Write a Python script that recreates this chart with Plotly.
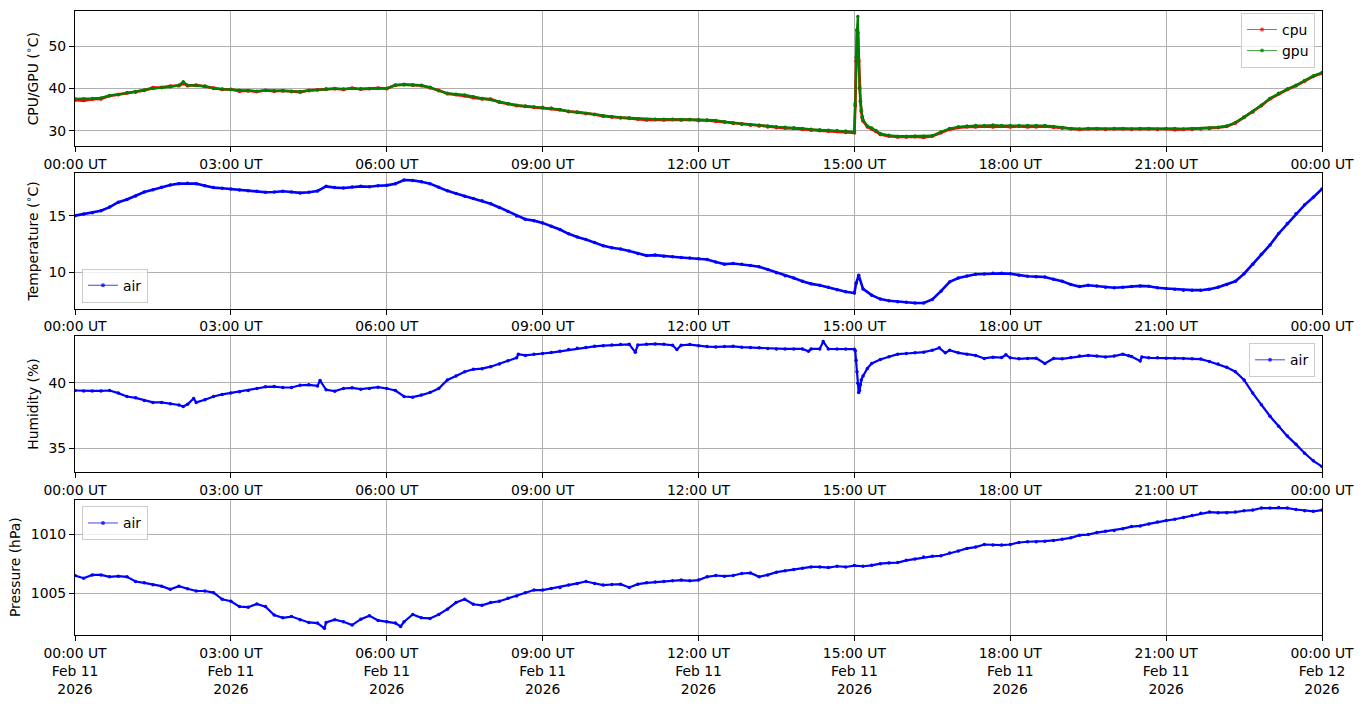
import pandas as pd
import plotly.graph_objects as go

# ---------------- data (minutes after 2026-02-11 00:00 UT) ----------------
gpu_min = [0, 10, 20, 30, 40, 50, 60, 70, 80, 90, 100, 110, 120, 125, 130, 140, 150, 160, 170, 180,
           190, 200, 210, 220, 230, 240, 250, 260, 270, 280, 290, 300, 310, 320, 330, 340, 350, 360,
           370, 380, 390, 400, 410, 420, 430, 440, 450, 460, 470, 480, 490, 500, 510, 520, 530, 540,
           550, 560, 570, 580, 590, 600, 610, 620, 630, 640, 650, 660, 670, 680, 690, 700, 710, 720,
           730, 740, 750, 760, 770, 780, 790, 800, 810, 820, 830, 840, 850, 860, 870, 880, 890, 900,
           901, 902, 903, 904, 905, 906, 907, 908, 909, 910, 915, 920, 925, 930, 940, 950, 960, 970,
           980, 990, 1000, 1010, 1020, 1030, 1040, 1050, 1060, 1070, 1080, 1090, 1100, 1110, 1120,
           1130, 1140, 1150, 1160, 1170, 1180, 1190, 1200, 1210, 1220, 1230, 1240, 1250, 1260, 1270,
           1280, 1290, 1300, 1310, 1320, 1330, 1340, 1350, 1360, 1370, 1380, 1390, 1400, 1410, 1420,
           1430, 1440]
gpu_val = [37.6, 37.6, 37.7, 37.8, 38.4, 38.6, 39.0, 39.3, 39.7, 40.0, 40.2, 40.4, 40.8, 41.6, 40.8, 40.7,
           40.6, 40.0, 39.9, 39.8, 39.6, 39.5, 39.4, 39.6, 39.5, 39.5, 39.4, 39.3, 39.5, 39.7, 39.8,
           40.0, 39.9, 40.0, 39.9, 40.0, 40.0, 40.1, 40.8, 40.9, 40.9, 40.8, 40.3, 39.5, 38.9, 38.7,
           38.5, 38.1, 37.7, 37.4, 36.9, 36.5, 36.1, 35.9, 35.7, 35.6, 35.4, 35.1, 34.6, 34.5, 34.2,
           33.9, 33.6, 33.4, 33.2, 33.1, 32.9, 32.8, 32.8, 32.8, 32.8, 32.7, 32.7, 32.7, 32.6, 32.5,
           32.2, 31.9, 31.7, 31.5, 31.4, 31.2, 31.0, 30.9, 30.8, 30.6, 30.4, 30.3, 30.2, 30.1, 30.0,
           29.8, 36.5, 47.4, 53.8, 57.0, 46.2, 40.0, 37.3, 34.9, 33.4, 32.6, 31.2, 30.7, 30.1, 29.4,
           29.0, 28.8, 28.8, 28.8, 28.8, 28.9, 29.8, 30.6, 31.0, 31.2, 31.3, 31.3, 31.4, 31.3, 31.3,
           31.3, 31.3, 31.3, 31.3, 31.1, 30.8, 30.6, 30.5, 30.6, 30.6, 30.5, 30.6, 30.6, 30.5, 30.6,
           30.6, 30.5, 30.6, 30.6, 30.5, 30.6, 30.6, 30.7, 30.9, 31.2, 32.0, 33.3, 34.6, 36.1, 37.7,
           38.9, 39.9, 40.8, 41.9, 43.0, 43.8]

cpu_min = gpu_min
cpu_val = [37.3, 37.2, 37.5, 37.6, 38.3, 38.6, 39.0, 39.2, 39.6, 40.2, 40.3, 40.6, 40.7, 41.2, 40.7, 40.8,
           40.5, 40.1, 39.8, 39.8, 39.4, 39.5, 39.3, 39.6, 39.4, 39.5, 39.3, 39.2, 39.6, 39.7, 39.9,
           40.0, 39.8, 40.1, 39.9, 40.0, 40.1, 40.0, 40.8, 41.0, 40.8, 40.7, 40.2, 39.6, 38.8, 38.6,
           38.3, 37.9, 37.6, 37.5, 36.8, 36.4, 36.0, 35.8, 35.6, 35.5, 35.3, 35.0, 34.6, 34.4, 34.1,
           33.9, 33.5, 33.3, 33.1, 33.0, 32.8, 32.6, 32.7, 32.6, 32.7, 32.6, 32.7, 32.5, 32.5, 32.3,
           32.1, 31.8, 31.6, 31.4, 31.2, 31.0, 30.8, 30.7, 30.6, 30.4, 30.2, 30.1, 30.0, 29.9, 29.7,
           29.6, 36.0, 46.5, 53.8, 53.2, 46.6, 40.2, 37.0, 34.6, 33.2, 32.4, 31.0, 30.5, 29.9, 29.2,
           28.8, 28.6, 28.6, 28.7, 28.5, 28.8, 29.6, 30.4, 30.8, 31.0, 31.0, 31.1, 31.0, 31.1, 31.0,
           31.1, 31.0, 31.0, 31.1, 30.9, 30.7, 30.5, 30.4, 30.5, 30.5, 30.4, 30.5, 30.5, 30.4, 30.5,
           30.5, 30.4, 30.5, 30.3, 30.4, 30.4, 30.5, 30.6, 30.8, 31.1, 31.9, 33.2, 34.5, 36.0, 37.6,
           38.8, 39.8, 40.7, 41.8, 42.9, 43.6]

temp_min = [0, 10, 20, 30, 40, 50, 60, 70, 80, 90, 100, 110, 120, 130, 140, 150, 160, 170, 180, 190, 200,
            210, 220, 230, 240, 250, 260, 270, 280, 290, 300, 310, 320, 330, 340, 350, 360, 370, 380,
            390, 400, 410, 420, 430, 440, 450, 460, 470, 480, 490, 500, 510, 520, 530, 540, 550, 560,
            570, 580, 590, 600, 610, 620, 630, 640, 650, 660, 670, 680, 690, 700, 710, 720, 730, 740,
            750, 760, 770, 780, 790, 800, 810, 820, 830, 840, 850, 860, 870, 880, 890, 900, 902, 905,
            910, 920, 930, 940, 950, 960, 970, 980, 990, 1000, 1010, 1020, 1030, 1040, 1050, 1060,
            1070, 1080, 1090, 1100, 1110, 1120, 1130, 1140, 1150, 1160, 1170, 1180, 1190, 1200, 1210,
            1220, 1230, 1240, 1250, 1260, 1270, 1280, 1290, 1300, 1310, 1320, 1330, 1340, 1350, 1360,
            1370, 1380, 1390, 1400, 1410, 1420, 1430, 1440]
temp_val = [15.0, 15.15, 15.26, 15.44, 15.76, 16.2, 16.43, 16.75, 17.1, 17.3, 17.52, 17.72, 17.84, 17.87,
            17.84, 17.66, 17.49, 17.43, 17.37, 17.27, 17.22, 17.16, 17.08, 17.1, 17.16, 17.1, 17.02,
            17.08, 17.19, 17.6, 17.49, 17.45, 17.54, 17.6, 17.56, 17.66, 17.69, 17.84, 18.16, 18.13,
            18.01, 17.84, 17.52, 17.2, 16.97, 16.73, 16.52, 16.32, 16.05, 15.73, 15.38, 14.97, 14.68,
            14.56, 14.36, 14.06, 13.77, 13.39, 13.1, 12.89, 12.63, 12.34, 12.16, 12.05, 11.87, 11.64,
            11.46, 11.5, 11.4, 11.35, 11.29, 11.25, 11.17, 11.11, 10.88, 10.7, 10.76, 10.7, 10.58,
            10.47, 10.23, 9.94, 9.68, 9.47, 9.18, 8.95, 8.83, 8.65, 8.42, 8.25, 8.13, 9.0, 9.71, 8.5,
            7.95, 7.6, 7.45, 7.37, 7.31, 7.25, 7.25, 7.57, 8.3, 9.12, 9.47, 9.65, 9.8, 9.82, 9.88, 9.88,
            9.85, 9.71, 9.62, 9.59, 9.56, 9.36, 9.18, 8.89, 8.71, 8.83, 8.77, 8.65, 8.6, 8.65, 8.71,
            8.77, 8.74, 8.6, 8.54, 8.48, 8.39, 8.39, 8.39, 8.48, 8.65, 8.89, 9.18, 9.85, 10.7, 11.58,
            12.4, 13.42, 14.3, 15.18, 15.96, 16.64, 17.37]

hum_min = [0, 10, 20, 30, 40, 50, 60, 70, 80, 90, 100, 110, 120, 125, 130, 137, 140, 150, 160, 170, 180,
           190, 200, 210, 220, 230, 240, 250, 260, 270, 280, 283, 290, 300, 310, 320, 330, 340, 350,
           360, 370, 380, 390, 400, 410, 420, 430, 440, 450, 460, 470, 480, 490, 500, 510, 512, 520,
           530, 540, 550, 560, 570, 580, 590, 600, 610, 620, 630, 640, 647, 650, 660, 670, 680, 690,
           695, 700, 710, 720, 730, 740, 750, 760, 770, 780, 790, 800, 810, 820, 830, 840, 847, 850,
           860, 864, 870, 880, 890, 900, 901, 902, 903, 904, 905, 906, 907, 908, 910, 915, 920, 930,
           940, 950, 960, 970, 980, 990, 998, 1005, 1010, 1020, 1030, 1040, 1050, 1060, 1070, 1075,
           1080, 1090, 1100, 1110, 1120, 1130, 1140, 1150, 1160, 1170, 1180, 1190, 1200, 1210, 1217,
           1220, 1230, 1232, 1240, 1250, 1260, 1270, 1280, 1290, 1300, 1310, 1320, 1330, 1340, 1350,
           1360, 1370, 1380, 1390, 1400, 1410, 1420, 1430, 1440]
hum_val = [39.42, 39.39, 39.39, 39.39, 39.42, 39.22, 38.96, 38.86, 38.66, 38.51, 38.51, 38.41, 38.31,
           38.2, 38.36, 38.81, 38.51, 38.71, 38.96, 39.12, 39.22, 39.32, 39.42, 39.57, 39.7, 39.72,
           39.65, 39.65, 39.82, 39.85, 39.77, 40.18, 39.47, 39.37, 39.57, 39.62, 39.52, 39.57, 39.67,
           39.57, 39.42, 38.96, 38.91, 39.07, 39.27, 39.57, 40.23, 40.53, 40.86, 41.04, 41.09, 41.24,
           41.44, 41.69, 41.92, 42.2, 42.1, 42.2, 42.25, 42.32, 42.42, 42.55, 42.65, 42.7, 42.8, 42.85,
           42.9, 42.93, 42.95, 42.35, 42.9, 42.95, 42.98, 42.95, 42.88, 42.55, 42.88, 42.93, 42.85,
           42.78, 42.75, 42.78, 42.8, 42.73, 42.7, 42.68, 42.63, 42.6, 42.6, 42.6, 42.6, 42.42, 42.6,
           42.6, 43.16, 42.6, 42.6, 42.6, 42.58, 42.45, 41.74, 40.86, 39.97, 39.27, 39.42, 39.85, 40.23,
           40.53, 41.11, 41.49, 41.79, 42.0, 42.2, 42.25, 42.3, 42.35, 42.5, 42.68, 42.3, 42.5, 42.3,
           42.2, 42.1, 41.87, 41.97, 41.94, 42.15, 41.92, 41.84, 41.87, 41.89, 41.49, 41.87, 41.84,
           41.94, 42.05, 42.1, 42.05, 41.99, 42.05, 42.2, 42.07, 42.02, 41.67, 41.99, 41.92, 41.92,
           41.89, 41.89, 41.87, 41.84, 41.82, 41.64, 41.44, 41.19, 40.86, 40.23, 39.22, 38.33, 37.45,
           36.69, 35.93, 35.3, 34.62, 34.04, 33.61]

pres_min = [0, 10, 20, 30, 40, 50, 60, 70, 80, 90, 100, 110, 120, 130, 140, 150, 160, 170, 180, 190, 200,
            210, 220, 230, 240, 250, 260, 270, 280, 288, 290, 300, 310, 320, 330, 340, 350, 360, 370,
            376, 380, 390, 400, 410, 420, 430, 440, 450, 460, 470, 480, 490, 500, 510, 520, 530, 540,
            550, 560, 570, 580, 590, 600, 610, 620, 630, 640, 650, 660, 670, 680, 690, 700, 710, 720,
            730, 740, 750, 760, 770, 780, 790, 800, 810, 820, 830, 840, 850, 860, 870, 880, 890, 900,
            910, 920, 930, 940, 950, 960, 970, 980, 990, 1000, 1010, 1020, 1030, 1040, 1050, 1060,
            1070, 1080, 1090, 1100, 1110, 1120, 1130, 1140, 1150, 1160, 1170, 1180, 1190, 1200, 1210,
            1220, 1230, 1240, 1250, 1260, 1270, 1280, 1290, 1300, 1310, 1320, 1330, 1340, 1350, 1360,
            1370, 1380, 1390, 1400, 1410, 1420, 1430, 1440]
pres_val = [1006.51, 1006.28, 1006.56, 1006.56, 1006.4, 1006.45, 1006.4, 1006.0, 1005.89, 1005.73,
            1005.61, 1005.34, 1005.61, 1005.39, 1005.2, 1005.2, 1005.06, 1004.5, 1004.33, 1003.88,
            1003.83, 1004.11, 1003.88, 1003.16, 1002.93, 1003.04, 1002.77, 1002.54, 1002.49, 1002.04,
            1002.54, 1002.77, 1002.6, 1002.32, 1002.82, 1003.1, 1002.71, 1002.6, 1002.49, 1002.2,
            1002.6, 1003.21, 1002.93, 1002.88, 1003.21, 1003.66, 1004.22, 1004.5, 1004.08, 1003.99,
            1004.22, 1004.33, 1004.58, 1004.78, 1005.06, 1005.28, 1005.28, 1005.42, 1005.5, 1005.7,
            1005.84, 1006.0, 1005.84, 1005.7, 1005.75, 1005.78, 1005.5, 1005.78, 1005.89, 1005.95,
            1006.0, 1006.06, 1006.12, 1006.06, 1006.12, 1006.4, 1006.51, 1006.45, 1006.51, 1006.68,
            1006.73, 1006.4, 1006.56, 1006.79, 1006.9, 1007.01, 1007.12, 1007.23, 1007.23, 1007.18,
            1007.29, 1007.23, 1007.35, 1007.29, 1007.37, 1007.51, 1007.57, 1007.6, 1007.79, 1007.91,
            1008.07, 1008.13, 1008.18, 1008.41, 1008.58, 1008.8, 1008.91, 1009.13, 1009.08, 1009.08,
            1009.13, 1009.3, 1009.36, 1009.36, 1009.41, 1009.47, 1009.58, 1009.69, 1009.92, 1009.97,
            1010.14, 1010.25, 1010.31, 1010.47, 1010.64, 1010.7, 1010.87, 1011.03, 1011.15, 1011.26,
            1011.42, 1011.59, 1011.76, 1011.87, 1011.82, 1011.82, 1011.87, 1011.98, 1012.04, 1012.21,
            1012.21, 1012.26, 1012.21, 1012.09, 1011.98, 1011.93, 1012.04]

tick_hours = ["00:00", "03:00", "06:00", "09:00", "12:00", "15:00", "18:00", "21:00", "00:00"]
tick_dates = ["Feb 11", "Feb 11", "Feb 11", "Feb 11", "Feb 11", "Feb 11", "Feb 11", "Feb 11", "Feb 12"]
tick_year = "2026"

# ---------------- helpers ----------------
T0 = pd.Timestamp("2026-02-11 00:00")
def to_t(mins):
    return list(T0 + pd.to_timedelta(mins, unit="m"))

tickvals = [T0 + pd.Timedelta(hours=3 * i) for i in range(9)]
FONT = "DejaVu Sans"
FS = 13.9

fig = go.Figure()

def data_trace(mins, vals, color, ax, lw=2.2, ms=3.5):
    fig.add_trace(go.Scatter(x=to_t(mins), y=vals, mode="lines+markers",
                             line=dict(color=color, width=lw), marker=dict(color=color, size=ms),
                             showlegend=False, xaxis="x" + ax, yaxis="y" + ax, hoverinfo="skip"))

def legend_trace(name, color, lg, ax):
    fig.add_trace(go.Scatter(x=[None], y=[None], mode="lines+markers", name=name,
                             line=dict(color=color, width=1), marker=dict(color=color, size=4),
                             legend=lg, showlegend=True, xaxis="x" + ax, yaxis="y" + ax))

data_trace(cpu_min, cpu_val, "#ff0000", "", lw=2.8, ms=3.8)
data_trace(gpu_min, gpu_val, "#008000", "", lw=2.2, ms=3.4)
legend_trace("cpu", "rgba(255,0,0,0.75)", "legend", "")
legend_trace("gpu", "rgba(0,128,0,0.75)", "legend", "")
data_trace(temp_min, temp_val, "#0000ff", "2", lw=2.6, ms=3.5)
legend_trace("air", "rgba(0,0,255,0.75)", "legend2", "2")
data_trace(hum_min, hum_val, "#0000ff", "3", lw=2.2, ms=3.5)
legend_trace("air", "rgba(0,0,255,0.75)", "legend3", "3")
data_trace(pres_min, pres_val, "#0000ff", "4", lw=2.2, ms=3.5)
legend_trace("air", "rgba(0,0,255,0.75)", "legend4", "4")

# ---------------- axes ----------------
domains = [[0.7829, 1.0], [0.5230, 0.7401], [0.2615, 0.4786], [0.0, 0.2171]]
yranges = [[26.35, 58.3], [6.75, 18.77], [33.2, 43.56], [1001.48, 1012.93]]
ytitles = ["CPU/GPU (<sup>∘</sup>C)", "Temperature (<sup>∘</sup>C)", "Humidity (%)", "Pressure (hPa)"]
ydticks = [10, 5, 5, 5]
keys = ["", "2", "3", "4"]

common = dict(showline=True, linecolor="black", linewidth=1, mirror=True,
              ticks="outside", ticklen=5, tickwidth=1, tickcolor="black",
              showgrid=True, gridcolor="#b0b0b0", gridwidth=1, zeroline=False,
              tickfont=dict(family=FONT, size=FS, color="black"))

for i, k in enumerate(keys):
    if i < 3:
        ttext = [h + " UT" for h in tick_hours]
    else:
        ttext = [h + " UT<br>" + d + "<br>" + tick_year for h, d in zip(tick_hours, tick_dates)]
    fig.update_layout(**{
        "xaxis" + k: dict(common, domain=[0, 1], anchor="y" + k, type="date",
                          range=[T0, T0 + pd.Timedelta(hours=24)],
                          tickmode="array", tickvals=tickvals, ticktext=ttext),
        "yaxis" + k: dict(common, domain=domains[i], anchor="x" + k, range=yranges[i],
                          dtick=ydticks[i], tick0=0,
                          title=dict(text=ytitles[i], font=dict(family=FONT, size=FS, color="black"),
                                     standoff=6)),
    })

lg = dict(bgcolor="rgba(255,255,255,0.8)", bordercolor="#cccccc", borderwidth=1,
          font=dict(family=FONT, size=FS, color="black"), xref="paper", yref="paper",
          itemwidth=30, tracegroupgap=0)
fig.update_layout(
    legend=dict(lg, x=0.9944, xanchor="right", y=0.9968, yanchor="top"),
    legend2=dict(lg, x=0.0056, xanchor="left", y=0.5325, yanchor="bottom"),
    legend3=dict(lg, x=0.9944, xanchor="right", y=0.4675, yanchor="top"),
    legend4=dict(lg, x=0.0056, xanchor="left", y=0.206, yanchor="top"),
)

fig.update_layout(width=1364, height=707, autosize=False,
                  margin=dict(l=75, r=41, t=10, b=66, pad=0),
                  paper_bgcolor="white", plot_bgcolor="white",
                  font=dict(family=FONT, size=FS, color="black"))

fig.write_html("out.html", config={"displayModeBar": False},
               post_script="document.body.style.margin='0';document.body.style.overflow='hidden';")
